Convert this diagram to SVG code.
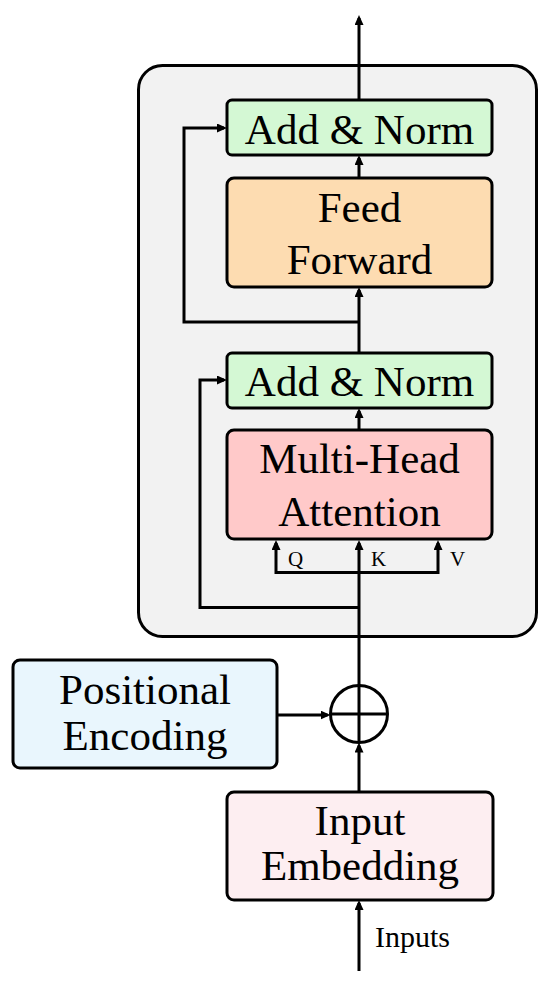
<svg xmlns="http://www.w3.org/2000/svg" width="550" height="986" viewBox="0 0 550 986">
  <defs>
    <style>
      .box { stroke: #000; stroke-width: 3; }
      .lbl { font-family: "Liberation Serif", "Times New Roman", serif; font-size: 43px; fill: #000; text-anchor: middle; }
      .small { font-family: "Liberation Serif", "Times New Roman", serif; font-size: 21px; fill: #000; }
      .conn { fill: none; stroke: #000; stroke-width: 3; stroke-linejoin: miter; }
    </style>
    <marker id="arr" markerUnits="userSpaceOnUse" markerWidth="10" markerHeight="9" refX="7" refY="4.5" orient="auto">
      <path d="M0,0 L10,4.5 L0,9 z" fill="#000"/>
    </marker>
  </defs>
  <rect width="550" height="986" fill="#fff"/>

  <g id="encoder-block">
    <rect x="138.5" y="65.5" width="398" height="571" rx="24" fill="#f2f2f2" stroke="#000" stroke-width="3"/>
  </g>

  <g id="add-norm-2">
    <rect class="box" x="227" y="100" width="265" height="55" rx="5" fill="#d4f8d4"/>
    <text class="lbl" x="359.5" y="144">Add &amp; Norm</text>
  </g>

  <g id="feed-forward">
    <rect class="box" x="227" y="178" width="265" height="109" rx="7" fill="#fddcb1"/>
    <text class="lbl" x="359.5" y="222">Feed</text>
    <text class="lbl" x="359.5" y="274">Forward</text>
  </g>

  <g id="add-norm-1">
    <rect class="box" x="227" y="353" width="265" height="55" rx="5" fill="#d4f8d4"/>
    <text class="lbl" x="359.5" y="396">Add &amp; Norm</text>
  </g>

  <g id="multi-head-attention">
    <rect class="box" x="227" y="430" width="265" height="109" rx="7" fill="#ffc9c9"/>
    <text class="lbl" x="359.5" y="473">Multi-Head</text>
    <text class="lbl" x="359.5" y="526">Attention</text>
  </g>

  <g id="positional-encoding">
    <rect class="box" x="13" y="660" width="264" height="108" rx="7" fill="#e9f6fd"/>
    <text class="lbl" x="145" y="704">Positional</text>
    <text class="lbl" x="145" y="750">Encoding</text>
  </g>

  <g id="add-circle">
    <circle cx="359" cy="714" r="28.5" fill="none" stroke="#000" stroke-width="3"/>
    <line x1="330.5" y1="714" x2="387.5" y2="714" stroke="#000" stroke-width="3"/>
    <line x1="359" y1="685.5" x2="359" y2="742.5" stroke="#000" stroke-width="3"/>
  </g>

  <g id="input-embedding">
    <rect class="box" x="227" y="792" width="266" height="108" rx="7" fill="#fdeef1"/>
    <text class="lbl" x="360" y="835">Input</text>
    <text class="lbl" x="360" y="880">Embedding</text>
  </g>

  <g id="connectors">
    <path class="conn" d="M359,971 V903" marker-end="url(#arr)"/>
    <path class="conn" d="M359,792 V745.5" marker-end="url(#arr)"/>
    <path class="conn" d="M277,715 H327.5" marker-end="url(#arr)"/>
    <path class="conn" d="M359,685.5 V543" marker-end="url(#arr)"/>
    <path class="conn" d="M359,572.5 H276 V543" marker-end="url(#arr)"/>
    <path class="conn" d="M359,572.5 H438 V543" marker-end="url(#arr)"/>
    <path class="conn" d="M359,607.5 H200 V380 H224" marker-end="url(#arr)"/>
    <path class="conn" d="M359,430 V411" marker-end="url(#arr)"/>
    <path class="conn" d="M359,353 V290" marker-end="url(#arr)"/>
    <path class="conn" d="M359,322 H184 V128 H224" marker-end="url(#arr)"/>
    <path class="conn" d="M359,178 V158" marker-end="url(#arr)"/>
    <path class="conn" d="M359,100 V18" marker-end="url(#arr)"/>
    <text class="small" x="288" y="566">Q</text>
    <text class="small" x="371" y="566">K</text>
    <text class="small" x="450" y="566">V</text>
    <text class="small" x="375" y="947" style="font-size:30px">Inputs</text>
  </g>
</svg>
